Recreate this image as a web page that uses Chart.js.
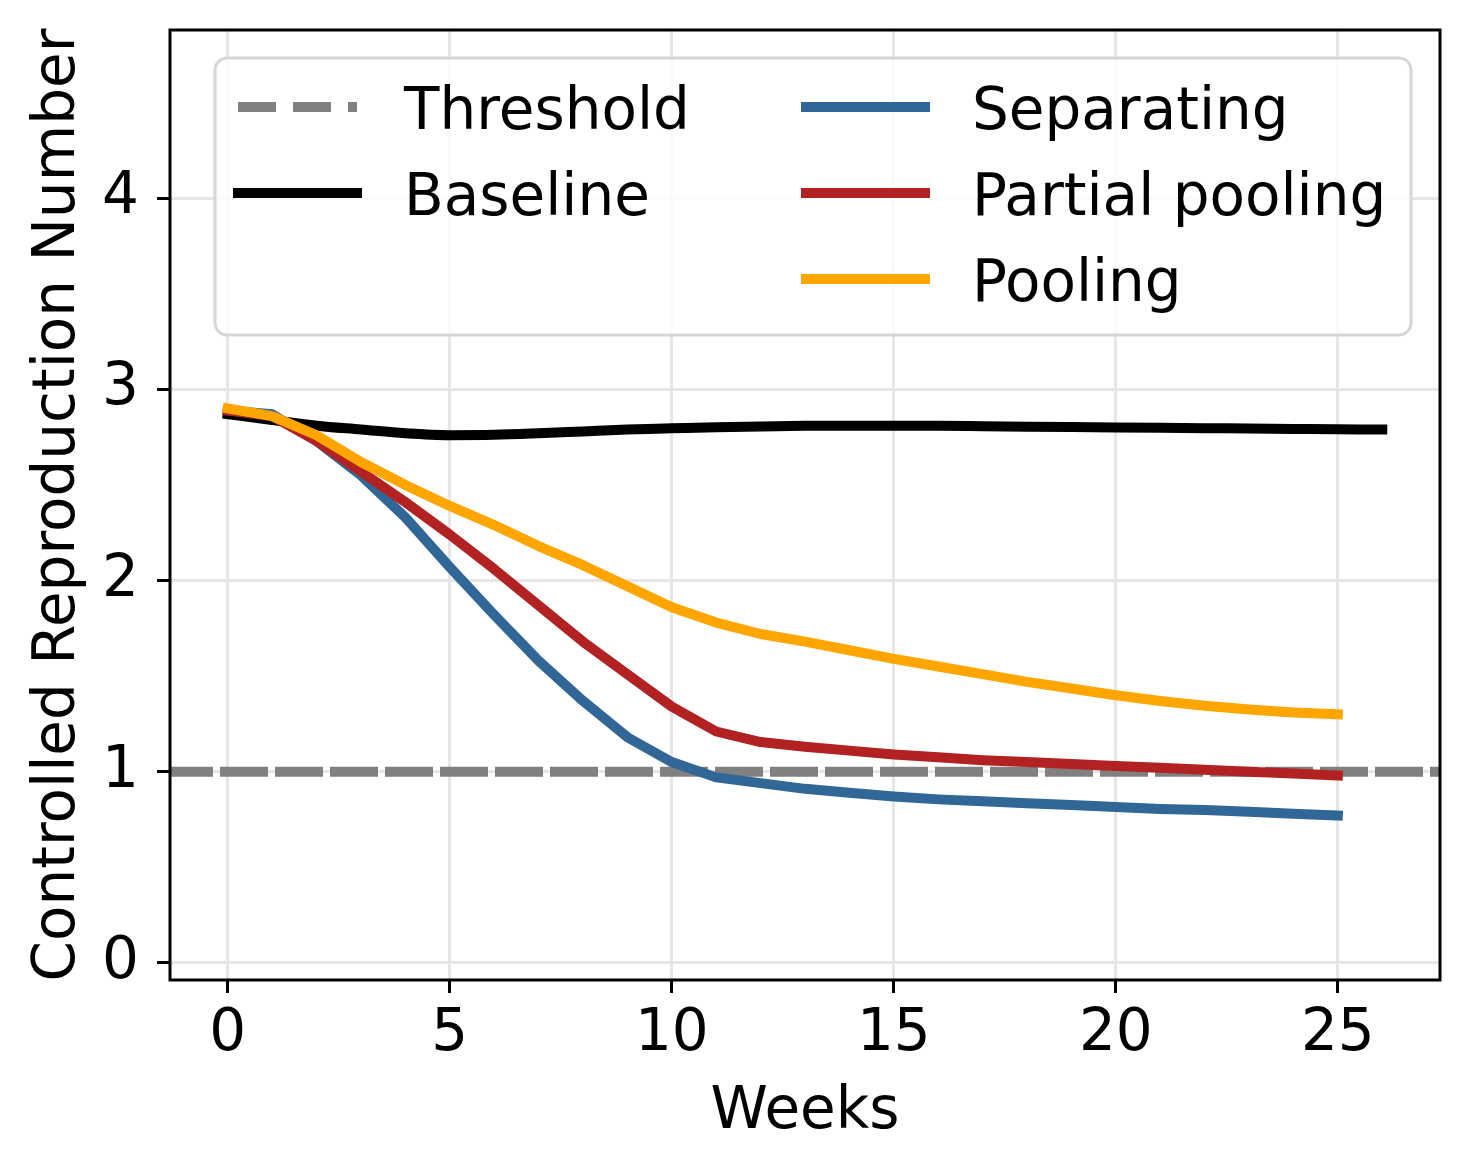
<!DOCTYPE html>
<html>
<head>
<meta charset="utf-8">
<script src="https://cdn.jsdelivr.net/npm/chart.js@4.4.1/dist/chart.umd.min.js"></script>
<style>
  html, body { margin: 0; padding: 0; background: #fff; }
  #wrap { width: 1469px; height: 1170px; }
</style>
</head>
<body>
<div id="wrap"><canvas id="line-chart"></canvas></div>
<script>
// values
var weeksBaseline = [0,1,2,3,4,5,6,7,8,9,10,11,12,13,14,15,16,17,18,19,20,21,22,23,24,25,26];
var weeksPolicy = [0,1,2,3,4,5,6,7,8,9,10,11,12,13,14,15,16,17,18,19,20,21,22,23,24,25];

var baseline = [2.87,2.84,2.81,2.79,2.77,2.76,2.762,2.77,2.78,2.79,2.796,2.802,2.806,2.809,2.81,2.81,2.809,2.807,2.805,2.803,2.801,2.799,2.797,2.795,2.793,2.791,2.79];
var separating = [2.89,2.87,2.73,2.55,2.33,2.07,1.82,1.58,1.37,1.18,1.05,0.97,0.94,0.91,0.89,0.87,0.855,0.845,0.835,0.825,0.815,0.805,0.80,0.79,0.78,0.77];
var partialPooling = [2.89,2.86,2.73,2.57,2.41,2.24,2.06,1.87,1.68,1.51,1.34,1.21,1.155,1.13,1.11,1.09,1.075,1.06,1.05,1.04,1.03,1.02,1.01,1.0,0.99,0.98];
var pooling = [2.90,2.86,2.76,2.62,2.50,2.39,2.29,2.18,2.08,1.97,1.86,1.78,1.72,1.68,1.635,1.59,1.55,1.51,1.47,1.435,1.40,1.37,1.345,1.325,1.31,1.30];
var threshold = 1;

var xMin = -1.3, xMax = 27.3;
var yMin = -0.09, yMax = 4.88;

var FONT = "'DejaVu Sans', sans-serif";

function pts(xs, ys) {
  return ys.map(function (v, i) { return { x: xs[i], y: v }; });
}

// legend: two columns, filled column by column like matplotlib
var legendCols = [["Threshold", "Baseline"], ["Separating", "Partial pooling", "Pooling"]];

var frameAndLegend = {
  id: 'frameAndLegend',
  afterDraw: function (chart) {
    var ctx = chart.ctx, a = chart.chartArea;
    ctx.save();
    // axes box
    ctx.strokeStyle = '#000';
    ctx.lineWidth = 3;
    ctx.strokeRect(a.left, a.top, a.right - a.left, a.bottom - a.top);

    // legend box
    var bx = 215, by = 58, bw = 1196, bh = 277, r = 12;
    ctx.beginPath();
    ctx.roundRect(bx, by, bw, bh, r);
    ctx.fillStyle = 'rgba(255,255,255,0.8)';
    ctx.fill();
    ctx.strokeStyle = '#d6d6d6';
    ctx.lineWidth = 3;
    ctx.stroke();

    var colX = [238, 806];
    var rowY = [107, 193, 279];
    var byLabel = {};
    chart.data.datasets.forEach(function (d) { byLabel[d.label] = d; });
    ctx.font = '58px ' + FONT;
    ctx.textBaseline = 'alphabetic';
    ctx.textAlign = 'left';
    legendCols.forEach(function (col, c) {
      col.forEach(function (lab, r) {
        var d = byLabel[lab];
        var x0 = colX[c], y0 = rowY[r];
        ctx.beginPath();
        ctx.strokeStyle = d.borderColor;
        ctx.lineWidth = d.borderWidth;
        ctx.setLineDash(d.borderDash || []);
        ctx.lineCap = d.borderDash ? 'butt' : 'square';
        ctx.moveTo(x0, y0);
        ctx.lineTo(x0 + 119, y0);
        ctx.stroke();
        ctx.setLineDash([]);
        ctx.fillStyle = '#000';
        ctx.fillText(lab, x0 + 166, y0 + 22);
      });
    });
    ctx.restore();
  }
};

var chart = new Chart(document.getElementById("line-chart"), {
  type: 'line',
  data: {
    datasets: [
      {
        label: 'Threshold',
        data: [{ x: xMin, y: threshold }, { x: xMax, y: threshold }],
        borderColor: '#808080',
        borderWidth: 10,
        borderDash: [38, 17],
        order: 5
      },
      {
        label: 'Baseline',
        data: pts(weeksBaseline, baseline),
        borderColor: '#000000',
        borderWidth: 10,
        cubicInterpolationMode: 'monotone',
        order: 4
      },
      {
        label: 'Separating',
        data: pts(weeksPolicy, separating),
        borderColor: '#306797',
        borderWidth: 10,
        order: 3
      },
      {
        label: 'Partial pooling',
        data: pts(weeksPolicy, partialPooling),
        borderColor: '#b22222',
        borderWidth: 10,
        order: 2
      },
      {
        label: 'Pooling',
        data: pts(weeksPolicy, pooling),
        borderColor: '#ffa500',
        borderWidth: 10,
        order: 1
      }
    ]
  },
  options: {
    responsive: true,
    maintainAspectRatio: false,
    animation: false,
    layout: { padding: { top: 30, right: 29, left: 0, bottom: 0 } },
    elements: {
      point: { radius: 0, hoverRadius: 0 },
      line: { tension: 0, fill: false, borderCapStyle: 'square', borderJoinStyle: 'round' }
    },
    plugins: {
      legend: { display: false },
      tooltip: { enabled: false }
    },
    scales: {
      x: {
        type: 'linear',
        min: xMin,
        max: xMax,
        afterFit: function (s) { s.height = 190; s.paddingLeft = 0; s.paddingRight = 0; },
        ticks: { stepSize: 5, includeBounds: false, color: '#000', padding: 7, maxRotation: 0,
                 font: { family: FONT, size: 58 } },
        grid: { color: '#e6e6e6', lineWidth: 3, tickLength: 13, tickColor: '#000', tickWidth: 3 },
        border: { display: false },
        title: { display: true, text: 'Weeks', color: '#000', padding: { top: 0, bottom: 22 },
                 font: { family: FONT, size: 58 } }
      },
      y: {
        min: yMin,
        max: yMax,
        afterFit: function (s) { s.width = 170; s.paddingTop = 0; s.paddingBottom = 0; },
        ticks: { stepSize: 1, includeBounds: false, color: '#000', padding: 18,
                 font: { family: FONT, size: 58 } },
        grid: { color: '#e6e6e6', lineWidth: 3, tickLength: 13, tickColor: '#000', tickWidth: 3 },
        border: { display: false },
        title: { display: true, text: 'Controlled Reproduction Number', color: '#000',
                 padding: { top: 24, bottom: 0 }, font: { family: FONT, size: 58 } }
      }
    }
  },
  plugins: [frameAndLegend]
});
</script>
</body>
</html>
